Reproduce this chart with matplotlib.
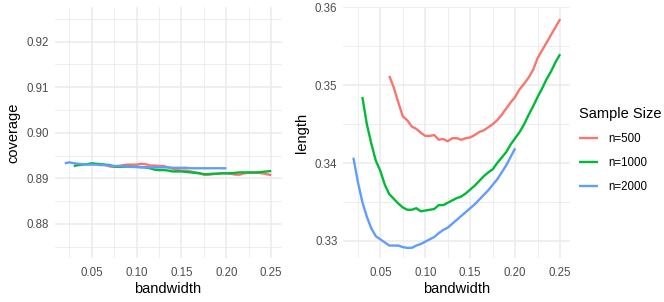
import numpy as np
import matplotlib
matplotlib.use("Agg")
import matplotlib.pyplot as plt

plt.rcParams['font.family'] = ['Liberation Sans', 'DejaVu Sans']

# bandwidth grids (step 0.005)
bw500 = np.round(np.arange(0.060, 0.2501, 0.005), 3)
bw1000 = np.round(np.arange(0.030, 0.2501, 0.005), 3)
bw2000 = np.round(np.arange(0.020, 0.2001, 0.005), 3)

# coverage values
cov500 = [0.8930, 0.8929, 0.8926, 0.8925, 0.8927, 0.8929, 0.8930, 0.8930, 0.8930, 0.8932,
          0.8931, 0.8928, 0.8928, 0.8927, 0.8927, 0.8924, 0.8921, 0.8918, 0.8917, 0.8917,
          0.8915, 0.8913, 0.8911, 0.8908, 0.8908, 0.8909, 0.8910, 0.8911, 0.8911, 0.8910,
          0.8908, 0.8908, 0.8911, 0.8912, 0.8912, 0.8912, 0.8911, 0.8909, 0.8907]
cov1000 = [0.8927, 0.8929, 0.8930, 0.8931, 0.8933, 0.8932, 0.8931, 0.8930, 0.8929, 0.8926,
           0.8925, 0.8925, 0.8926, 0.8925, 0.8925, 0.8924, 0.8924, 0.8922, 0.8919, 0.8918,
           0.8918, 0.8917, 0.8915, 0.8915, 0.8915, 0.8914, 0.8913, 0.8912, 0.8911, 0.8909,
           0.8909, 0.8910, 0.8910, 0.8911, 0.8911, 0.8911, 0.8912, 0.8913, 0.8913, 0.8913,
           0.8913, 0.8913, 0.8914, 0.8915, 0.8916]
cov2000 = [0.8933, 0.8935, 0.8933, 0.8932, 0.8931, 0.8930, 0.8930, 0.8930, 0.8929, 0.8929,
           0.8928, 0.8927, 0.8927, 0.8926, 0.8926, 0.8925, 0.8925, 0.8925, 0.8924, 0.8924,
           0.8924, 0.8924, 0.8924, 0.8924, 0.8923, 0.8923, 0.8923, 0.8923, 0.8922, 0.8922,
           0.8922, 0.8922, 0.8922, 0.8922, 0.8922, 0.8922, 0.8922]

# interval length values
len500 = [0.3512, 0.3497, 0.3478, 0.3460, 0.3455, 0.3447, 0.3444, 0.3439, 0.3435, 0.3435,
          0.3436, 0.3430, 0.3431, 0.3428, 0.3432, 0.3432, 0.3430, 0.3432, 0.3433, 0.3436,
          0.3440, 0.3442, 0.3446, 0.3450, 0.3455, 0.3462, 0.3470, 0.3478, 0.3485, 0.3495,
          0.3502, 0.3510, 0.3520, 0.3535, 0.3545, 0.3555, 0.3565, 0.3575, 0.3585]
len1000 = [0.3485, 0.3450, 0.3425, 0.3403, 0.3390, 0.3372, 0.3360, 0.3354, 0.3348, 0.3343,
           0.3340, 0.3340, 0.3342, 0.3338, 0.3339, 0.3340, 0.3341, 0.3346, 0.3346, 0.3349,
           0.3352, 0.3355, 0.3357, 0.3361, 0.3366, 0.3371, 0.3377, 0.3383, 0.3388, 0.3392,
           0.3400, 0.3407, 0.3414, 0.3424, 0.3432, 0.3440, 0.3450, 0.3462, 0.3473, 0.3485,
           0.3496, 0.3508, 0.3518, 0.3530, 0.3540]
len2000 = [0.3407, 0.3376, 0.3350, 0.3331, 0.3316, 0.3306, 0.3302, 0.3298, 0.3294, 0.3294,
           0.3294, 0.3292, 0.3291, 0.3291, 0.3294, 0.3296, 0.3299, 0.3302, 0.3305, 0.3310,
           0.3314, 0.3317, 0.3322, 0.3327, 0.3332, 0.3337, 0.3342, 0.3347, 0.3353, 0.3359,
           0.3365, 0.3372, 0.3379, 0.3388, 0.3397, 0.3408, 0.3419]

labels = ["n=500", "n=1000", "n=2000"]
colors = ["#F8766D", "#00BA38", "#619CFF"]
xticks = [0.05, 0.10, 0.15, 0.20, 0.25]

fig = plt.figure(figsize=(6.64, 3.02), dpi=100)
ax1 = fig.add_axes([0.0821, 0.1457, 0.3419, 0.8295])
ax2 = fig.add_axes([0.5166, 0.1457, 0.3425, 0.8295])

for ax in (ax1, ax2):
    for s in ax.spines.values():
        s.set_visible(False)
    ax.set_xlim(0.0085, 0.2615)
    ax.set_xticks(xticks)
    ax.set_xticklabels(["%.2f" % t for t in xticks])
    ax.set_xticks([0.025, 0.075, 0.125, 0.175, 0.225], minor=True)
    ax.tick_params(which='both', length=0, labelsize=8.3, labelcolor='#4D4D4D')
    ax.tick_params(axis='x', pad=6.5)
    ax.tick_params(axis='y', pad=4)
    ax.grid(which='major', color='#EBEBEB', linewidth=1.1)
    ax.grid(which='minor', color='#EBEBEB', linewidth=0.6)
    ax.set_axisbelow(True)
    ax.set_xlabel("bandwidth", fontsize=10.5, labelpad=2.5)

ax1.set_ylim(0.8725, 0.9275)
ax1.set_yticks([0.88, 0.89, 0.90, 0.91, 0.92])
ax1.set_yticklabels(["0.88", "0.89", "0.90", "0.91", "0.92"])
ax1.set_yticks([0.875, 0.885, 0.895, 0.905, 0.915, 0.925], minor=True)
ax1.set_ylabel("coverage", fontsize=10.5, labelpad=4.5)

ax2.set_ylim(0.3278, 0.3600)
ax2.set_yticks([0.33, 0.34, 0.35, 0.36])
ax2.set_yticklabels(["0.33", "0.34", "0.35", "0.36"])
ax2.set_yticks([0.335, 0.345, 0.355], minor=True)
ax2.set_ylabel("length", fontsize=10.5, labelpad=4.5)

covs = [cov500, cov1000, cov2000]
lens = [len500, len1000, len2000]
bws = [bw500, bw1000, bw2000]
handles = []
for bw, c, l, col, lab in zip(bws, covs, lens, colors, labels):
    ax1.plot(bw, c, color=col, lw=1.7, solid_capstyle='butt')
    h, = ax2.plot(bw, l, color=col, lw=1.7, solid_capstyle='butt', label=lab)
    handles.append(h)

leg = fig.legend(handles=handles, labels=labels, title="Sample Size",
                 loc='upper left', bbox_to_anchor=(579 / 664, 1 - 107 / 302),
                 frameon=False, fontsize=8.3, title_fontsize=10.5,
                 handlelength=1.65, handletextpad=0.87, labelspacing=1.05,
                 borderpad=0, borderaxespad=0, alignment='left')

fig.savefig("out.png", dpi=100)
